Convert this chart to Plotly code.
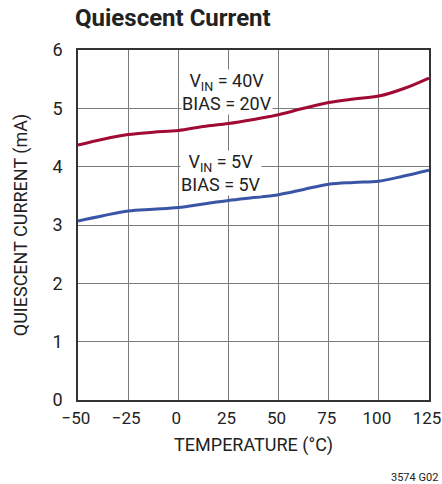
import plotly.graph_objects as go

temps = [-50, -37.5, -25, -12.5, 0, 12.5, 25, 37.5, 50, 62.5, 75, 87.5, 100, 112.5, 125]
i_40v = [4.37, 4.47, 4.55, 4.59, 4.62, 4.69, 4.74, 4.81, 4.89, 5.00, 5.10, 5.16, 5.21, 5.34, 5.52]
i_5v = [3.07, 3.16, 3.24, 3.27, 3.30, 3.36, 3.42, 3.47, 3.52, 3.61, 3.70, 3.73, 3.75, 3.84, 3.94]
x_ticks = [-50, -25, 0, 25, 50, 75, 100, 125]
x_tick_text = ["\u221250", "\u221225", "0", "25", "50", "75", "100", "125"]
y_ticks = [0, 1, 2, 3, 4, 5, 6]

FONT = "Roboto, sans-serif"

fig = go.Figure()
fig.add_trace(go.Scatter(x=temps, y=i_40v, mode="lines",
                         line=dict(color="#A10A33", width=3, shape="spline"),
                         showlegend=False))
fig.add_trace(go.Scatter(x=temps, y=i_5v, mode="lines",
                         line=dict(color="#3A55A6", width=3, shape="spline"),
                         showlegend=False))

fig.add_annotation(x=24.5, y=5.28, text="V<sub>IN</sub> = 40V<br>BIAS = 20V",
                   showarrow=False, font=dict(family=FONT, size=18, color="#222"),
                   bgcolor="white", borderpad=0, xanchor="center", yanchor="middle")
fig.add_annotation(x=21.5, y=3.9, text="V<sub>IN</sub> = 5V<br>BIAS = 5V",
                   showarrow=False, font=dict(family=FONT, size=18, color="#222"),
                   bgcolor="white", borderpad=0, xanchor="center", yanchor="middle")

fig.add_annotation(xref="paper", yref="paper", x=-0.015, y=1.045, xanchor="left", yanchor="bottom",
                   text="<b>Quiescent Current</b>", showarrow=False,
                   font=dict(family=FONT, size=24, color="#222"))
fig.add_annotation(xref="paper", yref="paper", x=1.031, y=-0.197, xanchor="right", yanchor="top",
                   text="3574 G02", showarrow=False,
                   font=dict(family=FONT, size=11, color="#222"))

fig.update_xaxes(range=[-50, 125], tickvals=x_ticks, ticktext=x_tick_text,
                 showgrid=True, gridcolor="#7a7a7a", gridwidth=1,
                 showline=True, linecolor="#333", linewidth=1.5, mirror=True,
                 ticks="", zeroline=False, ticklabelstandoff=2, ticklabelshift=-2,
                 ticklabeloverflow="allow", automargin=False,
                 tickfont=dict(family=FONT, size=17, color="#222"),
                 title=dict(text="TEMPERATURE (\u00b0C)", font=dict(family=FONT, size=18, color="#222"), standoff=11))
fig.update_yaxes(range=[0, 6], tickvals=y_ticks,
                 showgrid=True, gridcolor="#7a7a7a", gridwidth=1,
                 showline=True, linecolor="#333", linewidth=1.5, mirror=True,
                 ticks="", zeroline=False, ticklabelstandoff=10, automargin=False,
                 tickfont=dict(family=FONT, size=18, color="#222"),
                 title=dict(text="QUIESCENT CURRENT (mA)", font=dict(family=FONT, size=18, color="#222"), standoff=20))

fig.update_layout(width=442, height=484, margin=dict(l=78, r=13, t=50, b=84),
                  plot_bgcolor="white", paper_bgcolor="white")

fig.write_html("out.html", config={"displayModeBar": False},
               post_script="document.body.style.margin='0';document.body.style.overflow='hidden';")
